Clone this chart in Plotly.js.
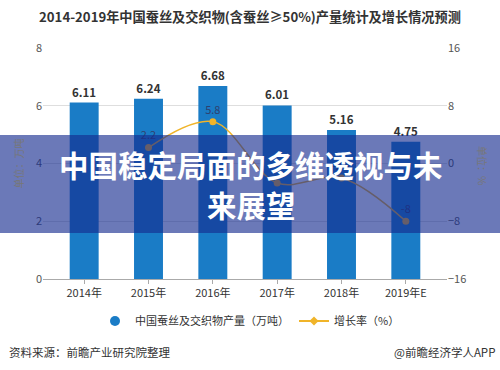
<!DOCTYPE html>
<html>
<head>
<meta charset="utf-8">
<script src="https://cdn.plot.ly/plotly-3.0.1.min.js"></script>
<style>
html,body{margin:0;padding:0;background:#fff;}
#chart{width:500px;height:370px;}
</style>
</head>
<body>
<div id="chart"></div>
<script>
const years = ["2014年","2015年","2016年","2017年","2018年","2019年E"];
const production = [6.11, 6.24, 6.68, 6.01, 5.16, 4.75];
const growth = [null, 2.2, 5.8, -2.7, -2.0, -8];
const growthLabels = ["", "2.2", "5.8", "", "-2.1", "-8"];
const prodName = "中国蚕丝及交织物产量（万吨）";
const growthName = "增长率（%）";

const W = 500, H = 370;
const L = 43, R = 53, T = 48, B = 91;
const pw = W - L - R, ph = H - T - B;
const px = v => (v - L) / pw;
const py = v => (H - B - v) / ph;

const FONT = "Noto Sans CJK SC, Noto Sans, sans-serif";
const BLUE = "#1a7cc6";
const GOLD = "#f0b429";

const traces = [
  {
    type: "bar", x: years, y: production, yaxis: "y",
    marker: {color: BLUE}, showlegend: false,
    text: production.map(v => v.toFixed(2)), textposition: "outside",
    textfont: {family: FONT, size: 11.5, color: "#333", weight: "bold"},
    cliponaxis: false, hoverinfo: "skip"
  },
  {
    type: "scatter", mode: "lines+markers+text", x: years, y: growth, yaxis: "y2",
    line: {color: GOLD, width: 1.5, shape: "spline"},
    marker: {color: GOLD, size: 7},
    text: growthLabels, textposition: "top center",
    textfont: {family: FONT, size: 11, color: "#2f3f6f"},
    showlegend: false, cliponaxis: false, hoverinfo: "skip"
  },
  {
    type: "scatter", mode: "markers", x: [null], y: [null], name: prodName,
    marker: {color: BLUE, size: 10, symbol: "circle"}, showlegend: true
  },
  {
    type: "scatter", mode: "lines+markers", x: [null], y: [null], name: growthName, yaxis: "y2",
    line: {color: GOLD, width: 2}, marker: {color: GOLD, size: 7, symbol: "diamond"}, showlegend: true
  }
];

const layout = {
  width: W, height: H,
  margin: {l: L, r: R, t: T, b: B, pad: 0},
  paper_bgcolor: "#fff", plot_bgcolor: "#fff",
  font: {family: FONT, size: 11, color: "#555"},
  bargap: 0.55,
  title: {
    text: "<b>2014-2019年中国蚕丝及交织物(含蚕丝≥50%)产量统计及增长情况预测</b>",
    font: {family: FONT, size: 13.2, color: "#333"},
    x: 0.5, xref: "container", xanchor: "center",
    y: 1 - 17 / H, yanchor: "middle", yref: "container"
  },
  xaxis: {
    type: "category", range: [-0.64, 5.64],
    showline: true, linecolor: "#aaa", linewidth: 1,
    ticks: "outside", ticklen: 4, tickcolor: "#aaa",
    tickfont: {family: FONT, size: 11, color: "#333"},
    showgrid: false, zeroline: false, fixedrange: true
  },
  yaxis: {
    range: [0, 8], dtick: 2, showgrid: true, gridcolor: "#dedede", gridwidth: 1,
    zeroline: false, showline: false, ticks: "",
    tickfont: {family: FONT, size: 11, color: "#555"},
    title: {text: "单位：万吨", font: {family: FONT, size: 10, color: "#777"}, standoff: 10}
  },
  yaxis2: {
    range: [-16, 16], dtick: 8, overlaying: "y", side: "right",
    showgrid: false, zeroline: false, showline: false, ticks: "",
    tickfont: {family: FONT, size: 11, color: "#555"}
  },
  legend: {
    orientation: "h", x: px(250), xanchor: "center", y: py(321), yanchor: "middle",
    font: {family: FONT, size: 11, color: "#333"}, itemwidth: 30, bgcolor: "rgba(0,0,0,0)"
  },
  shapes: [
    {type: "rect", xref: "paper", yref: "paper", x0: px(0), x1: px(500), y0: py(233), y1: py(135),
     fillcolor: "rgba(20,42,143,0.63)", line: {width: 0}, layer: "above"}
  ],
  annotations: [
    {text: "单位：%", xref: "paper", yref: "paper", x: px(483), y: py(165), xanchor: "center", yanchor: "middle",
     showarrow: false, textangle: 90, font: {family: FONT, size: 10, color: "#777"}},
    {text: "<b>中国稳定局面的多维透视与未</b>", xref: "paper", yref: "paper", x: px(251), y: py(164),
     xanchor: "center", yanchor: "middle", showarrow: false, font: {family: FONT, size: 29.5, color: "#fff"}},
    {text: "<b>来展望</b>", xref: "paper", yref: "paper", x: px(251), y: py(204),
     xanchor: "center", yanchor: "middle", showarrow: false, font: {family: FONT, size: 29.5, color: "#fff"}},
    {text: "资料来源：前瞻产业研究院整理", xref: "paper", yref: "paper", x: px(7), y: py(352),
     xanchor: "left", yanchor: "middle", showarrow: false, font: {family: FONT, size: 11.5, color: "#333"}},
    {text: "@前瞻经济学人APP", xref: "paper", yref: "paper", x: px(497), y: py(352),
     xanchor: "right", yanchor: "middle", showarrow: false, font: {family: FONT, size: 11.5, color: "#333"}}
  ]
};

Plotly.newPlot("chart", traces, layout, {displayModeBar: false, staticPlot: true});
</script>
</body>
</html>
